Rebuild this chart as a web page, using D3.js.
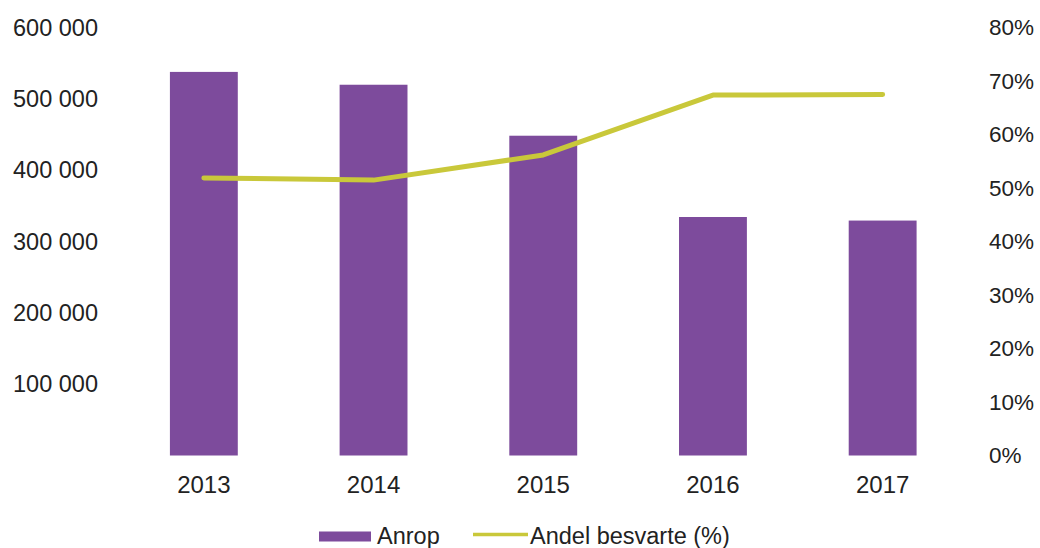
<!DOCTYPE html>
<html>
<head>
<meta charset="utf-8">
<script src="https://cdn.jsdelivr.net/npm/d3@7"></script>
<style>
  html, body { margin: 0; padding: 0; background: #fff; }
  svg { display: block; font-family: "Liberation Sans", Arial, sans-serif; }
</style>
</head>
<body>
<svg id="chart" width="1040" height="548"></svg>
<script>
// Calls to the service line and share answered, per year
const years = ["2013", "2014", "2015", "2016", "2017"];
const calls = [538000, 520000, 448500, 334500, 329500];
const answeredPct = [51.9, 51.5, 56.2, 67.4, 67.5];
const leftTicks = [100000, 200000, 300000, 400000, 500000, 600000];
const rightTicks = [0, 10, 20, 30, 40, 50, 60, 70, 80];
const seriesNames = ["Anrop", "Andel besvarte (%)"];

const barColor = "#7d4b9c";
const lineColor = "#c9c83a";
const textColor = "#222";
const fontFamily = "Liberation Sans, Arial, sans-serif";

const svg = d3.select("#chart");

const x = d3.scaleBand().domain(years).range([119, 967.5]).paddingInner(0.6).paddingOuter(0.3);
const yLeft = d3.scaleLinear().domain([0, 600000]).range([455.5, 27.7]);
const yRight = d3.scaleLinear().domain([0, 80]).range([455.5, 27.7]);

const fmtThousands = d => d3.format(",")(d).replace(/,/g, " ");

// Bars
svg.append("g").selectAll("rect")
  .data(years.map((y, i) => ({ year: y, v: calls[i] })))
  .join("rect")
  .attr("x", d => x(d.year))
  .attr("width", x.bandwidth())
  .attr("y", d => yLeft(d.v))
  .attr("height", d => yLeft(0) - yLeft(d.v))
  .attr("fill", barColor);

// Line
const line = d3.line()
  .x((d, i) => x(years[i]) + x.bandwidth() / 2)
  .y(d => yRight(d));
svg.append("path")
  .datum(answeredPct)
  .attr("d", line)
  .attr("fill", "none")
  .attr("stroke", lineColor)
  .attr("stroke-width", 5)
  .attr("stroke-linecap", "round")
  .attr("stroke-linejoin", "round");

// Left axis
const gl = svg.append("g").attr("transform", "translate(98,0)")
  .call(d3.axisLeft(yLeft).tickValues(leftTicks).tickFormat(fmtThousands).tickSize(0).tickPadding(0));
gl.select(".domain").remove();
gl.selectAll("text").attr("font-size", 23.5).attr("font-family", fontFamily).attr("fill", textColor);

// Right axis
const gr = svg.append("g").attr("transform", "translate(989,0)")
  .call(d3.axisRight(yRight).tickValues(rightTicks).tickFormat(d => d + "%").tickSize(0).tickPadding(0));
gr.select(".domain").remove();
gr.selectAll("text").attr("font-size", 22.5).attr("font-family", fontFamily).attr("fill", textColor);

// Bottom axis
const gb = svg.append("g").attr("transform", "translate(0,455.5)")
  .call(d3.axisBottom(x).tickSize(0).tickPadding(0));
gb.select(".domain").remove();
gb.selectAll(".tick text")
  .attr("font-size", 24)
  .attr("font-family", fontFamily)
  .attr("fill", textColor)
  .attr("dy", null)
  .attr("y", 37.5);

// Legend
const lg = svg.append("g");
lg.append("rect").attr("x", 319).attr("y", 531.5).attr("width", 52).attr("height", 10).attr("fill", barColor);
lg.append("text").attr("x", 377).attr("y", 544).attr("font-size", 23.5).attr("fill", textColor).text(seriesNames[0]);
lg.append("line").attr("x1", 473).attr("x2", 528).attr("y1", 534.5).attr("y2", 534.5)
  .attr("stroke", lineColor).attr("stroke-width", 3.5);
lg.append("text").attr("x", 530).attr("y", 544).attr("font-size", 23.5).attr("fill", textColor).text(seriesNames[1]);
</script>
</body>
</html>
